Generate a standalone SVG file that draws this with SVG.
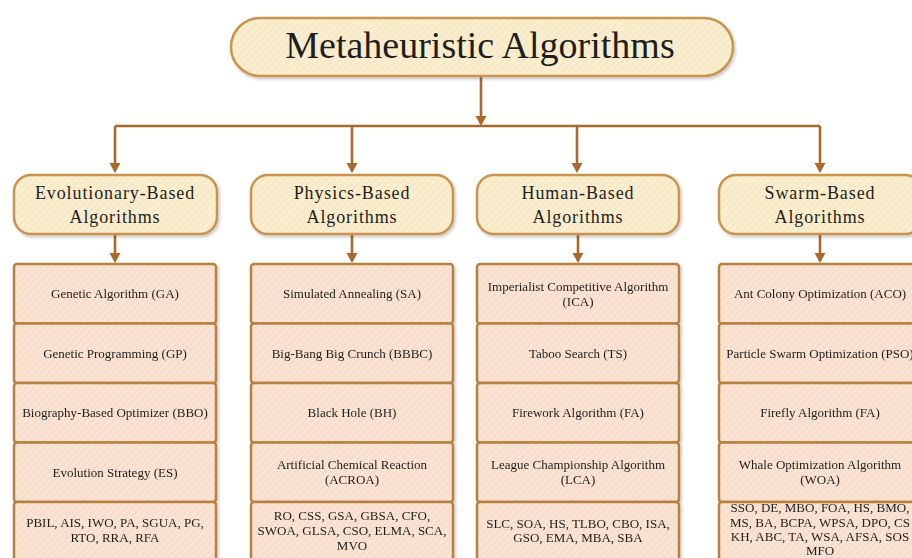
<svg xmlns="http://www.w3.org/2000/svg" width="912" height="558" viewBox="0 0 912 558">
<defs>
<pattern id="hatchY" width="5" height="5" patternUnits="userSpaceOnUse" patternTransform="rotate(45)">
<rect width="5" height="5" fill="#f8eac6"/>
<line x1="0" y1="0" x2="0" y2="5" stroke="#fdf6e3" stroke-width="1.6"/>
</pattern>
<pattern id="hatchP" width="5" height="5" patternUnits="userSpaceOnUse" patternTransform="rotate(45)">
<rect width="5" height="5" fill="#f8dfcd"/>
<line x1="0" y1="0" x2="0" y2="5" stroke="#fcece0" stroke-width="1.6"/>
</pattern>
<filter id="sh" x="-10%" y="-10%" width="130%" height="140%">
<feDropShadow dx="1.5" dy="2" stdDeviation="1.6" flood-color="#000" flood-opacity="0.22"/>
</filter>
<marker id="ah" markerUnits="userSpaceOnUse" markerWidth="12" markerHeight="12" refX="8" refY="5.5" orient="auto">
<path d="M0,0 L10,5.5 L0,11 z" fill="#a8692a"/>
</marker>
</defs>
<style>
.title{fill:url(#hatchY);stroke:#c9944e;stroke-width:2.5;filter:url(#sh)}
.cat{fill:url(#hatchY);stroke:#c9944e;stroke-width:2.5;filter:url(#sh)}
.row{fill:url(#hatchP);stroke:#b8813f;stroke-width:2.5}
.lst{filter:url(#sh)}
.conn{fill:none;stroke:#a8692a;stroke-width:2.6}
text{font-family:"Liberation Serif","Times New Roman",serif;fill:#1e1e1e;text-anchor:middle}
.tt{font-size:38px}
.ct{font-size:18px;letter-spacing:0.9px}
.it{font-size:13px}
</style>

<g id="connectors">
<path class="conn" d="M481,76 V124" marker-end="url(#ah)"/>
<path class="conn" d="M115,126 H820"/>
<path class="conn" d="M115,126 V171" marker-end="url(#ah)"/>
<path class="conn" d="M352,126 V171" marker-end="url(#ah)"/>
<path class="conn" d="M577,126 V171" marker-end="url(#ah)"/>
<path class="conn" d="M820,126 V171" marker-end="url(#ah)"/>
<path class="conn" d="M115,234 V261" marker-end="url(#ah)"/>
<path class="conn" d="M352,234 V261" marker-end="url(#ah)"/>
<path class="conn" d="M578,234 V261" marker-end="url(#ah)"/>
<path class="conn" d="M820,234 V261" marker-end="url(#ah)"/>
</g>

<g id="title">
<rect class="title" x="231" y="18" width="502" height="58" rx="29"/>
<text class="tt" x="480" y="58">Metaheuristic Algorithms</text>
</g>

<g id="cat-evolutionary">
<rect class="cat" x="14" y="175" width="203" height="59" rx="17"/>
<text class="ct" x="115" y="199">Evolutionary-Based</text>
<text class="ct" x="115" y="223">Algorithms</text>
</g>
<g id="cat-physics">
<rect class="cat" x="251" y="175" width="202" height="59" rx="17"/>
<text class="ct" x="352" y="199">Physics-Based</text>
<text class="ct" x="352" y="223">Algorithms</text>
</g>
<g id="cat-human">
<rect class="cat" x="477" y="175" width="202" height="59" rx="17"/>
<text class="ct" x="578" y="199">Human-Based</text>
<text class="ct" x="578" y="223">Algorithms</text>
</g>
<g id="cat-swarm">
<rect class="cat" x="719" y="175" width="203" height="59" rx="17"/>
<text class="ct" x="820" y="199">Swarm-Based</text>
<text class="ct" x="820" y="223">Algorithms</text>
</g>

<g id="list-evolutionary" class="lst">
<rect class="row" x="14" y="264" width="202" height="59.5" rx="3"/>
<rect class="row" x="14" y="323.5" width="202" height="59.5" rx="3"/>
<rect class="row" x="14" y="383" width="202" height="59.5" rx="3"/>
<rect class="row" x="14" y="442.5" width="202" height="59.5" rx="3"/>
<rect class="row" x="14" y="502" width="202" height="62" rx="3"/>
<text class="it" x="115" y="298">Genetic Algorithm (GA)</text>
<text class="it" x="115" y="357.5">Genetic Programming (GP)</text>
<text class="it" x="115" y="417">Biography-Based Optimizer (BBO)</text>
<text class="it" x="115" y="476.5">Evolution Strategy (ES)</text>
<text class="it" x="115" y="527">PBIL, AIS, IWO, PA, SGUA, PG,</text>
<text class="it" x="115" y="542">RTO, RRA, RFA</text>
</g>

<g id="list-physics" class="lst">
<rect class="row" x="251" y="264" width="202" height="59.5" rx="3"/>
<rect class="row" x="251" y="323.5" width="202" height="59.5" rx="3"/>
<rect class="row" x="251" y="383" width="202" height="59.5" rx="3"/>
<rect class="row" x="251" y="442.5" width="202" height="59.5" rx="3"/>
<rect class="row" x="251" y="502" width="202" height="62" rx="3"/>
<text class="it" x="352" y="298">Simulated Annealing (SA)</text>
<text class="it" x="352" y="357.5">Big-Bang Big Crunch (BBBC)</text>
<text class="it" x="352" y="417">Black Hole (BH)</text>
<text class="it" x="352" y="469">Artificial Chemical Reaction</text>
<text class="it" x="352" y="484">(ACROA)</text>
<text class="it" x="352" y="520">RO, CSS, GSA, GBSA, CFO,</text>
<text class="it" x="352" y="535">SWOA, GLSA, CSO, ELMA, SCA,</text>
<text class="it" x="352" y="550">MVO</text>
</g>

<g id="list-human" class="lst">
<rect class="row" x="477" y="264" width="202" height="59.5" rx="3"/>
<rect class="row" x="477" y="323.5" width="202" height="59.5" rx="3"/>
<rect class="row" x="477" y="383" width="202" height="59.5" rx="3"/>
<rect class="row" x="477" y="442.5" width="202" height="59.5" rx="3"/>
<rect class="row" x="477" y="502" width="202" height="62" rx="3"/>
<text class="it" x="578" y="291">Imperialist Competitive Algorithm</text>
<text class="it" x="578" y="306">(ICA)</text>
<text class="it" x="578" y="357.5">Taboo Search (TS)</text>
<text class="it" x="578" y="417">Firework Algorithm (FA)</text>
<text class="it" x="578" y="469">League Championship Algorithm</text>
<text class="it" x="578" y="484">(LCA)</text>
<text class="it" x="578" y="528">SLC, SOA, HS, TLBO, CBO, ISA,</text>
<text class="it" x="578" y="542">GSO, EMA, MBA, SBA</text>
</g>

<g id="list-swarm" class="lst">
<rect class="row" x="719" y="264" width="202" height="59.5" rx="3"/>
<rect class="row" x="719" y="323.5" width="202" height="59.5" rx="3"/>
<rect class="row" x="719" y="383" width="202" height="59.5" rx="3"/>
<rect class="row" x="719" y="442.5" width="202" height="59.5" rx="3"/>
<rect class="row" x="719" y="502" width="202" height="62" rx="3"/>
<text class="it" x="820" y="298">Ant Colony Optimization (ACO)</text>
<text class="it" x="820" y="357.5">Particle Swarm Optimization (PSO)</text>
<text class="it" x="820" y="417">Firefly Algorithm (FA)</text>
<text class="it" x="820" y="469">Whale Optimization Algorithm</text>
<text class="it" x="820" y="484">(WOA)</text>
<text class="it" x="820" y="512">SSO, DE, MBO, FOA, HS, BMO,</text>
<text class="it" x="820" y="527">MS, BA, BCPA, WPSA, DPO, CS</text>
<text class="it" x="820" y="541">KH, ABC, TA, WSA, AFSA, SOS</text>
<text class="it" x="820" y="555">MFO</text>
</g>
</svg>
